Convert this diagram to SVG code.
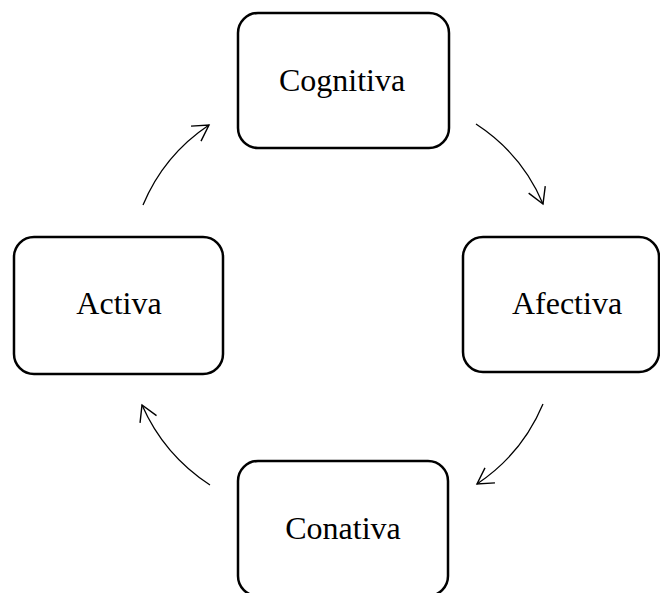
<svg xmlns="http://www.w3.org/2000/svg" width="660" height="593" viewBox="0 0 660 593">
<style>
.box{fill:#fff;stroke:#000;stroke-width:2.5}
.lbl{font-family:"Liberation Serif","Times New Roman",serif;font-size:32px;fill:#000;text-anchor:middle}
.arr{fill:none;stroke:#000;stroke-width:1.3;marker-end:url(#ah)}
</style>
<defs>
<marker id="ah" markerUnits="userSpaceOnUse" markerWidth="24" markerHeight="24" refX="0" refY="0" viewBox="-20 -12 24 24" orient="auto" overflow="visible">
<path d="M-15.6,-9 L0,0 L-15.6,9" fill="none" stroke="#000" stroke-width="1.4"/>
</marker>
</defs>
<rect width="660" height="593" fill="#fff"/>
<g id="connectors">
<path class="arr" d="M476,124 Q522,154 543,204"/>
<path class="arr" d="M543,404 Q522,454 477,484"/>
<path class="arr" d="M210,485 Q164,455 142,405"/>
<path class="arr" d="M143,205 Q164,155 209,125"/>
</g>
<g id="cognitiva"><rect class="box" x="238" y="13" width="211" height="135" rx="20"/><text class="lbl" x="342" y="91">Cognitiva</text></g>
<g id="afectiva"><rect class="box" x="463" y="237" width="196" height="135" rx="20"/><text class="lbl" x="567" y="314">Afectiva</text></g>
<g id="conativa"><rect class="box" x="238" y="461" width="210" height="135" rx="20"/><text class="lbl" x="343" y="539">Conativa</text></g>
<g id="activa"><rect class="box" x="14" y="237" width="209" height="137" rx="20"/><text class="lbl" x="119" y="314">Activa</text></g>
</svg>
